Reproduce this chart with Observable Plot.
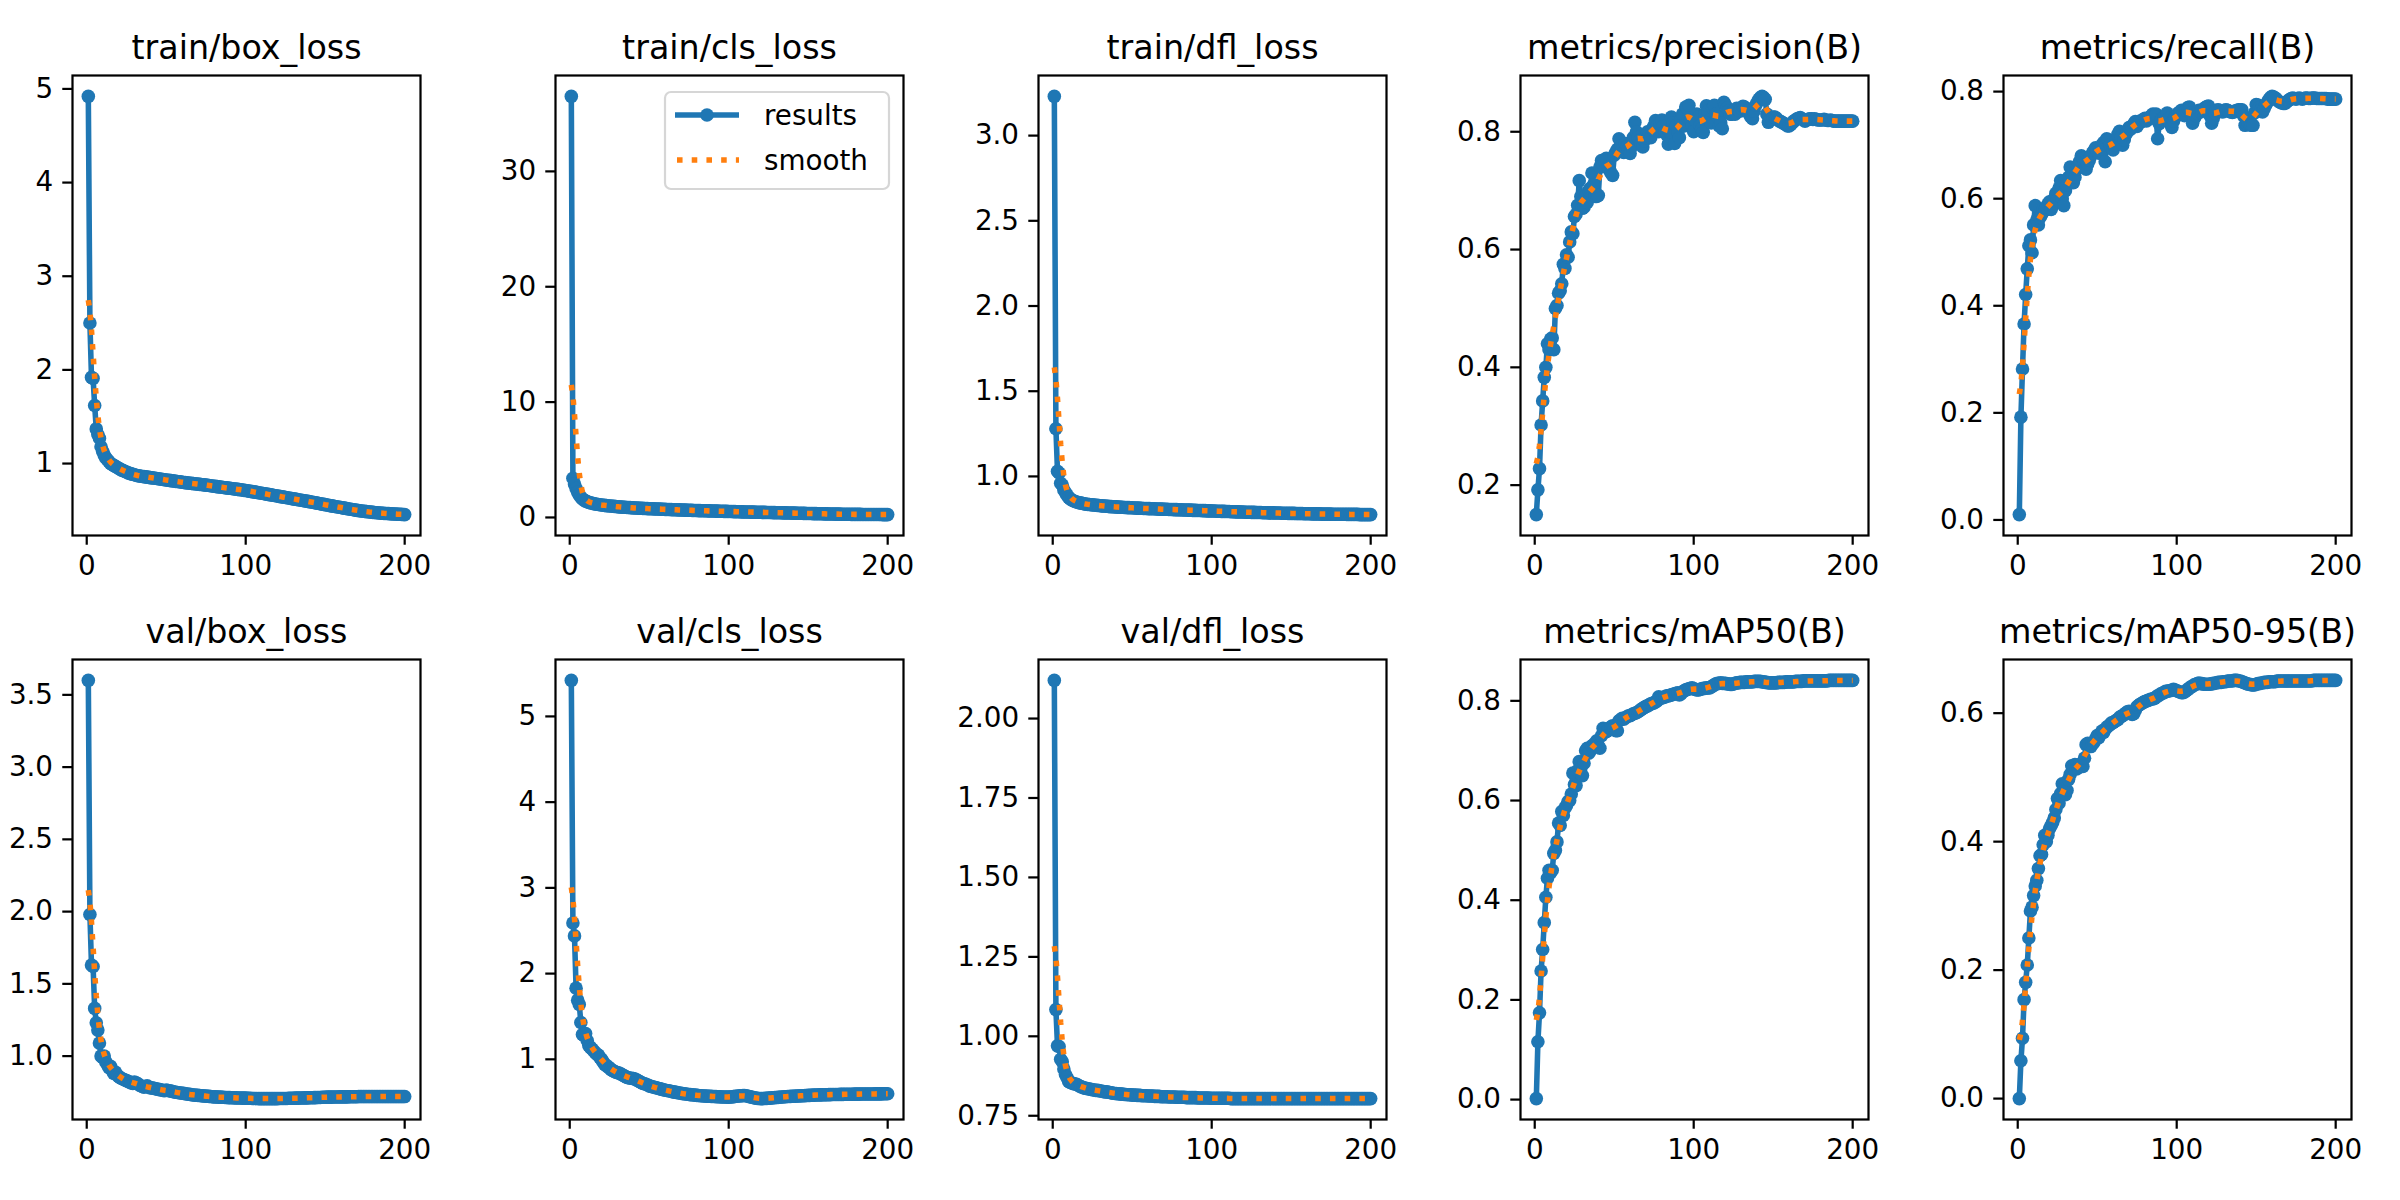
<!DOCTYPE html>
<html>
<head>
<meta charset="utf-8">
<script src="https://cdn.jsdelivr.net/npm/d3@7"></script>
<script src="https://cdn.jsdelivr.net/npm/@observablehq/plot@0.6"></script>
<style>
  body { margin: 0; background: #fff; }
  #chart { position: relative; width: 2400px; height: 1200px; background: #fff; font-family: "DejaVu Sans", sans-serif; }
  #chart svg { position: absolute; overflow: visible; }
</style>
</head>
<body>
<div id="chart"></div>
<script>
// Training run, 200 epochs: one value per epoch for each logged column.
const epochs = d3.range(1, 201);

const trainBoxLoss = [
  4.92, 2.50, 1.92, 1.91, 1.62, 1.37, 1.31, 1.27, 1.18, 1.13,
  1.09, 1.06, 1.04, 1.02, 1.00, 0.99, 0.98, 0.97, 0.96, 0.95,
  0.94, 0.93, 0.925, 0.915, 0.91, 0.90, 0.895, 0.89, 0.885, 0.88,
  0.875, 0.87, 0.868, 0.865, 0.862, 0.86, 0.858, 0.855, 0.852, 0.85,
  0.847, 0.845, 0.843, 0.84, 0.837, 0.835, 0.832, 0.83, 0.827, 0.825,
  0.822, 0.82, 0.818, 0.815, 0.813, 0.81, 0.808, 0.806, 0.804, 0.80,
  0.798, 0.796, 0.794, 0.792, 0.79, 0.788, 0.786, 0.784, 0.782, 0.78,
  0.778, 0.776, 0.774, 0.772, 0.77, 0.768, 0.765, 0.763, 0.76, 0.758,
  0.756, 0.754, 0.751, 0.749, 0.747, 0.745, 0.742, 0.74, 0.738, 0.736,
  0.733, 0.731, 0.729, 0.727, 0.724, 0.722, 0.72, 0.717, 0.714, 0.712,
  0.709, 0.706, 0.703, 0.70, 0.698, 0.695, 0.692, 0.689, 0.686, 0.683,
  0.68, 0.677, 0.674, 0.671, 0.668, 0.665, 0.662, 0.659, 0.656, 0.653,
  0.65, 0.647, 0.644, 0.641, 0.638, 0.635, 0.632, 0.629, 0.626, 0.623,
  0.62, 0.617, 0.614, 0.611, 0.608, 0.605, 0.602, 0.599, 0.596, 0.593,
  0.59, 0.587, 0.584, 0.58, 0.577, 0.574, 0.571, 0.567, 0.564, 0.561,
  0.558, 0.555, 0.551, 0.548, 0.545, 0.542, 0.539, 0.536, 0.533, 0.53,
  0.527, 0.524, 0.521, 0.518, 0.515, 0.512, 0.509, 0.506, 0.503, 0.50,
  0.498, 0.495, 0.493, 0.491, 0.489, 0.487, 0.485, 0.483, 0.481, 0.479,
  0.477, 0.475, 0.474, 0.472, 0.471, 0.469, 0.468, 0.467, 0.466, 0.465,
  0.464, 0.463, 0.462, 0.461, 0.46, 0.459, 0.458, 0.457, 0.456, 0.455
];

const trainClsLoss = [
  36.5, 3.4, 2.9, 2.5, 2.2, 1.95, 1.75, 1.6, 1.5, 1.42,
  1.36, 1.31, 1.27, 1.23, 1.2, 1.17, 1.15, 1.12, 1.1, 1.08,
  1.06, 1.05, 1.03, 1.02, 1.0, 0.99, 0.97, 0.96, 0.95, 0.93,
  0.92, 0.91, 0.9, 0.89, 0.88, 0.87, 0.86, 0.85, 0.84, 0.83,
  0.82, 0.815, 0.81, 0.8, 0.795, 0.79, 0.78, 0.775, 0.77, 0.76,
  0.755, 0.75, 0.745, 0.74, 0.735, 0.73, 0.72, 0.715, 0.71, 0.7,
  0.695, 0.69, 0.685, 0.68, 0.675, 0.67, 0.665, 0.66, 0.655, 0.65,
  0.645, 0.64, 0.635, 0.63, 0.625, 0.62, 0.615, 0.61, 0.605, 0.6,
  0.596, 0.592, 0.588, 0.584, 0.58, 0.576, 0.572, 0.568, 0.564, 0.56,
  0.556, 0.552, 0.548, 0.544, 0.54, 0.536, 0.532, 0.528, 0.524, 0.52,
  0.516, 0.512, 0.508, 0.504, 0.5, 0.496, 0.492, 0.488, 0.484, 0.48,
  0.477, 0.474, 0.47, 0.467, 0.464, 0.46, 0.457, 0.454, 0.45, 0.447,
  0.444, 0.44, 0.437, 0.434, 0.43, 0.427, 0.424, 0.42, 0.417, 0.414,
  0.41, 0.407, 0.404, 0.4, 0.397, 0.394, 0.39, 0.387, 0.384, 0.38,
  0.377, 0.374, 0.37, 0.367, 0.364, 0.36, 0.357, 0.354, 0.35, 0.347,
  0.344, 0.34, 0.337, 0.334, 0.33, 0.327, 0.324, 0.32, 0.317, 0.314,
  0.311, 0.308, 0.305, 0.302, 0.299, 0.296, 0.293, 0.29, 0.288, 0.286,
  0.284, 0.282, 0.28, 0.278, 0.276, 0.274, 0.272, 0.27, 0.268, 0.267,
  0.266, 0.265, 0.264, 0.263, 0.262, 0.261, 0.26, 0.259, 0.258, 0.257,
  0.256, 0.255, 0.254, 0.253, 0.252, 0.251, 0.25, 0.25, 0.249, 0.249
];

const trainDflLoss = [
  3.23, 1.28, 1.03, 1.02, 0.96, 0.95, 0.92, 0.905, 0.89, 0.877,
  0.868, 0.862, 0.857, 0.853, 0.85, 0.847, 0.845, 0.843, 0.841, 0.839,
  0.837, 0.836, 0.835, 0.834, 0.833, 0.832, 0.831, 0.83, 0.829, 0.828,
  0.827, 0.826, 0.826, 0.825, 0.824, 0.823, 0.823, 0.822, 0.821, 0.821,
  0.82, 0.82, 0.819, 0.819, 0.818, 0.818, 0.817, 0.817, 0.816, 0.816,
  0.815, 0.815, 0.814, 0.814, 0.813, 0.813, 0.812, 0.812, 0.812, 0.811,
  0.811, 0.81, 0.81, 0.81, 0.809, 0.809, 0.808, 0.808, 0.808, 0.807,
  0.807, 0.807, 0.806, 0.806, 0.806, 0.805, 0.805, 0.805, 0.804, 0.804,
  0.804, 0.803, 0.803, 0.803, 0.802, 0.802, 0.802, 0.801, 0.801, 0.801,
  0.8, 0.8, 0.8, 0.799, 0.799, 0.799, 0.798, 0.798, 0.798, 0.797,
  0.797, 0.797, 0.796, 0.796, 0.796, 0.795, 0.795, 0.795, 0.794, 0.794,
  0.794, 0.793, 0.793, 0.793, 0.792, 0.792, 0.792, 0.791, 0.791, 0.791,
  0.79, 0.79, 0.79, 0.79, 0.789, 0.789, 0.789, 0.788, 0.788, 0.788,
  0.788, 0.787, 0.787, 0.787, 0.787, 0.786, 0.786, 0.786, 0.786, 0.785,
  0.785, 0.785, 0.785, 0.784, 0.784, 0.784, 0.784, 0.783, 0.783, 0.783,
  0.783, 0.783, 0.782, 0.782, 0.782, 0.782, 0.782, 0.781, 0.781, 0.781,
  0.781, 0.781, 0.78, 0.78, 0.78, 0.78, 0.78, 0.78, 0.779, 0.779,
  0.779, 0.779, 0.779, 0.779, 0.779, 0.778, 0.778, 0.778, 0.778, 0.778,
  0.778, 0.778, 0.778, 0.778, 0.777, 0.777, 0.777, 0.777, 0.777, 0.777,
  0.777, 0.777, 0.776, 0.776, 0.776, 0.776, 0.776, 0.776, 0.776, 0.776
];

const precisionB = [
  0.150, 0.192, 0.228, 0.302, 0.343, 0.383, 0.400, 0.440, 0.430, 0.448,
  0.450, 0.430, 0.500, 0.505, 0.526, 0.530, 0.542, 0.575, 0.568, 0.591,
  0.587, 0.613, 0.630, 0.627, 0.656, 0.660, 0.675, 0.717, 0.690, 0.670,
  0.672, 0.690, 0.680, 0.700, 0.704, 0.730, 0.710, 0.690, 0.690, 0.692,
  0.740, 0.751, 0.745, 0.750, 0.755, 0.740, 0.735, 0.730, 0.726, 0.760,
  0.765, 0.770, 0.788, 0.775, 0.770, 0.765, 0.780, 0.775, 0.770, 0.763,
  0.775, 0.790, 0.816, 0.800, 0.790, 0.785, 0.780, 0.774, 0.785, 0.790,
  0.800, 0.795, 0.790, 0.805, 0.810, 0.819, 0.810, 0.800, 0.815, 0.820,
  0.810, 0.800, 0.795, 0.779, 0.800, 0.825, 0.815, 0.780, 0.810, 0.800,
  0.790, 0.820, 0.830, 0.810, 0.842, 0.840, 0.845, 0.820, 0.810, 0.800,
  0.820, 0.830, 0.825, 0.810, 0.805, 0.799, 0.830, 0.844, 0.835, 0.820,
  0.815, 0.840, 0.845, 0.830, 0.825, 0.810, 0.815, 0.805, 0.850, 0.845,
  0.840, 0.835, 0.830, 0.830, 0.835, 0.830, 0.840, 0.838, 0.835, 0.840,
  0.843, 0.842, 0.838, 0.835, 0.830, 0.825, 0.822, 0.835, 0.845, 0.850,
  0.855, 0.858, 0.860, 0.858, 0.855, 0.830, 0.816, 0.820, 0.822, 0.825,
  0.825, 0.823, 0.820, 0.818, 0.817, 0.815, 0.814, 0.812, 0.810, 0.810,
  0.812, 0.815, 0.818, 0.820, 0.822, 0.823, 0.824, 0.822, 0.820, 0.818,
  0.820, 0.821, 0.822, 0.822, 0.821, 0.822, 0.821, 0.820, 0.820, 0.820,
  0.820, 0.821, 0.820, 0.819, 0.819, 0.820, 0.819, 0.818, 0.818, 0.818,
  0.818, 0.818, 0.818, 0.818, 0.818, 0.818, 0.818, 0.818, 0.818, 0.818
];

const recallB = [
  0.010, 0.192, 0.282, 0.366, 0.421, 0.469, 0.512, 0.523, 0.499, 0.551,
  0.587, 0.560, 0.551, 0.565, 0.570, 0.580, 0.578, 0.585, 0.590, 0.594,
  0.580, 0.587, 0.600, 0.610, 0.598, 0.620, 0.634, 0.600, 0.587, 0.615,
  0.625, 0.640, 0.659, 0.645, 0.630, 0.640, 0.655, 0.660, 0.670, 0.680,
  0.675, 0.668, 0.655, 0.665, 0.672, 0.680, 0.685, 0.690, 0.695, 0.690,
  0.685, 0.690, 0.700, 0.705, 0.669, 0.712, 0.710, 0.700, 0.695, 0.691,
  0.700, 0.710, 0.720, 0.726, 0.715, 0.700, 0.710, 0.720, 0.725, 0.733,
  0.730, 0.735, 0.740, 0.744, 0.735, 0.740, 0.745, 0.744, 0.748, 0.750,
  0.745, 0.750, 0.752, 0.755, 0.758, 0.750, 0.758, 0.712, 0.740, 0.745,
  0.750, 0.751, 0.755, 0.760, 0.750, 0.740, 0.733, 0.745, 0.752, 0.755,
  0.760, 0.762, 0.765, 0.760, 0.755, 0.765, 0.770, 0.771, 0.760, 0.741,
  0.750, 0.755, 0.760, 0.765, 0.762, 0.765, 0.768, 0.770, 0.772, 0.773,
  0.755, 0.741, 0.750, 0.760, 0.765, 0.766, 0.765, 0.763, 0.762, 0.765,
  0.766, 0.765, 0.763, 0.762, 0.761, 0.762, 0.764, 0.765, 0.766, 0.766,
  0.766, 0.755, 0.737, 0.740, 0.742, 0.738, 0.737, 0.737, 0.760, 0.776,
  0.775, 0.770, 0.765, 0.762, 0.768, 0.775, 0.780, 0.785, 0.789, 0.791,
  0.790, 0.788, 0.785, 0.782, 0.780, 0.779, 0.778, 0.778, 0.780, 0.783,
  0.785, 0.787, 0.788, 0.787, 0.786, 0.787, 0.788, 0.787, 0.786, 0.787,
  0.788, 0.788, 0.787, 0.787, 0.788, 0.788, 0.788, 0.787, 0.787, 0.787,
  0.787, 0.787, 0.787, 0.787, 0.786, 0.786, 0.786, 0.786, 0.786, 0.786
];

const valBoxLoss = [
  3.60, 1.98, 1.63, 1.62, 1.33, 1.23, 1.18, 1.09, 1.00, 0.99,
  1.00, 0.96, 0.94, 0.92, 0.93, 0.90, 0.88, 0.89, 0.87, 0.86,
  0.85, 0.845, 0.84, 0.835, 0.83, 0.825, 0.82, 0.815, 0.81, 0.82,
  0.815, 0.81, 0.80, 0.795, 0.79, 0.785, 0.79, 0.795, 0.785, 0.78,
  0.78, 0.778, 0.775, 0.772, 0.77, 0.768, 0.765, 0.762, 0.76, 0.765,
  0.762, 0.76, 0.758, 0.755, 0.752, 0.75, 0.748, 0.746, 0.745, 0.743,
  0.742, 0.74, 0.738, 0.736, 0.735, 0.733, 0.731, 0.73, 0.729, 0.728,
  0.727, 0.726, 0.725, 0.724, 0.723, 0.722, 0.721, 0.72, 0.719, 0.718,
  0.718, 0.717, 0.716, 0.716, 0.715, 0.715, 0.714, 0.714, 0.713, 0.713,
  0.712, 0.712, 0.711, 0.711, 0.71, 0.71, 0.71, 0.709, 0.709, 0.709,
  0.708, 0.708, 0.708, 0.707, 0.707, 0.707, 0.707, 0.706, 0.706, 0.706,
  0.706, 0.706, 0.706, 0.706, 0.706, 0.706, 0.706, 0.706, 0.706, 0.706,
  0.707, 0.707, 0.707, 0.707, 0.707, 0.707, 0.708, 0.708, 0.708, 0.708,
  0.709, 0.709, 0.709, 0.71, 0.71, 0.71, 0.711, 0.711, 0.711, 0.712,
  0.712, 0.712, 0.713, 0.713, 0.714, 0.714, 0.714, 0.715, 0.715, 0.715,
  0.716, 0.716, 0.716, 0.716, 0.717, 0.717, 0.717, 0.717, 0.718, 0.718,
  0.718, 0.718, 0.718, 0.718, 0.719, 0.719, 0.719, 0.719, 0.719, 0.719,
  0.72, 0.72, 0.72, 0.72, 0.72, 0.72, 0.72, 0.72, 0.72, 0.72,
  0.72, 0.72, 0.72, 0.72, 0.72, 0.72, 0.72, 0.72, 0.72, 0.72,
  0.72, 0.72, 0.72, 0.72, 0.72, 0.72, 0.72, 0.72, 0.72, 0.72
];

const valClsLoss = [
  5.42, 2.59, 2.44, 1.83, 1.69, 1.64, 1.43, 1.29, 1.28, 1.30,
  1.22, 1.16, 1.14, 1.12, 1.10, 1.08, 1.06, 1.05, 1.02, 1.00,
  0.97, 0.94, 0.93, 0.91, 0.90, 0.88, 0.87, 0.86, 0.85, 0.845,
  0.84, 0.83, 0.82, 0.81, 0.80, 0.79, 0.785, 0.78, 0.78, 0.775,
  0.77, 0.76, 0.75, 0.74, 0.73, 0.72, 0.715, 0.71, 0.70, 0.69,
  0.685, 0.68, 0.675, 0.67, 0.665, 0.66, 0.655, 0.65, 0.645, 0.64,
  0.637, 0.634, 0.63, 0.625, 0.62, 0.617, 0.614, 0.61, 0.607, 0.604,
  0.60, 0.598, 0.595, 0.592, 0.59, 0.588, 0.586, 0.584, 0.582, 0.58,
  0.578, 0.576, 0.575, 0.573, 0.572, 0.571, 0.57, 0.569, 0.568, 0.567,
  0.566, 0.565, 0.564, 0.563, 0.562, 0.561, 0.56, 0.56, 0.559, 0.559,
  0.56, 0.562, 0.565, 0.568, 0.57, 0.572, 0.574, 0.575, 0.577, 0.578,
  0.575, 0.57, 0.565, 0.56, 0.556, 0.552, 0.548, 0.545, 0.543, 0.542,
  0.542, 0.543, 0.544, 0.545, 0.547, 0.548, 0.55, 0.552, 0.553, 0.555,
  0.556, 0.558, 0.56, 0.561, 0.563, 0.564, 0.566, 0.567, 0.568, 0.569,
  0.57, 0.571, 0.572, 0.573, 0.574, 0.575, 0.576, 0.577, 0.578, 0.579,
  0.58, 0.581, 0.582, 0.583, 0.584, 0.584, 0.585, 0.585, 0.586, 0.586,
  0.587, 0.587, 0.588, 0.588, 0.589, 0.589, 0.59, 0.59, 0.59, 0.591,
  0.591, 0.591, 0.592, 0.592, 0.592, 0.593, 0.593, 0.593, 0.594, 0.594,
  0.594, 0.594, 0.595, 0.595, 0.595, 0.595, 0.596, 0.596, 0.596, 0.596,
  0.596, 0.597, 0.597, 0.597, 0.597, 0.597, 0.598, 0.598, 0.598, 0.598
];

const valDflLoss = [
  2.12, 1.084, 0.97, 0.968, 0.928, 0.92, 0.897, 0.88, 0.87, 0.858,
  0.855, 0.853, 0.851, 0.85, 0.849, 0.846, 0.843, 0.841, 0.839, 0.837,
  0.836, 0.835, 0.834, 0.833, 0.832, 0.831, 0.83, 0.83, 0.829, 0.828,
  0.827, 0.826, 0.825, 0.825, 0.824, 0.823, 0.822, 0.821, 0.82, 0.82,
  0.819, 0.819, 0.818, 0.818, 0.817, 0.817, 0.816, 0.816, 0.816, 0.815,
  0.815, 0.815, 0.814, 0.814, 0.814, 0.813, 0.813, 0.813, 0.813, 0.812,
  0.812, 0.812, 0.812, 0.811, 0.811, 0.811, 0.811, 0.81, 0.81, 0.81,
  0.81, 0.81, 0.809, 0.809, 0.809, 0.809, 0.809, 0.808, 0.808, 0.808,
  0.808, 0.808, 0.808, 0.807, 0.807, 0.807, 0.807, 0.807, 0.807, 0.807,
  0.806, 0.806, 0.806, 0.806, 0.806, 0.806, 0.806, 0.806, 0.805, 0.805,
  0.805, 0.805, 0.805, 0.805, 0.805, 0.805, 0.805, 0.805, 0.805, 0.805,
  0.805, 0.804, 0.804, 0.804, 0.804, 0.804, 0.804, 0.804, 0.804, 0.804,
  0.804, 0.804, 0.804, 0.804, 0.804, 0.804, 0.804, 0.804, 0.804, 0.804,
  0.804, 0.804, 0.804, 0.804, 0.804, 0.804, 0.804, 0.804, 0.804, 0.804,
  0.804, 0.804, 0.804, 0.804, 0.804, 0.804, 0.804, 0.804, 0.804, 0.804,
  0.804, 0.804, 0.804, 0.804, 0.804, 0.804, 0.804, 0.804, 0.804, 0.804,
  0.804, 0.804, 0.804, 0.804, 0.804, 0.804, 0.804, 0.804, 0.804, 0.804,
  0.804, 0.804, 0.804, 0.804, 0.804, 0.804, 0.804, 0.804, 0.804, 0.804,
  0.804, 0.804, 0.804, 0.804, 0.804, 0.804, 0.804, 0.804, 0.804, 0.804,
  0.804, 0.804, 0.804, 0.804, 0.804, 0.804, 0.804, 0.804, 0.804, 0.804
];

const mAP50B = [
  0.002, 0.116, 0.174, 0.258, 0.301, 0.355, 0.406, 0.444, 0.46, 0.455,
  0.46, 0.494, 0.50, 0.517, 0.555, 0.55, 0.578, 0.57, 0.585, 0.59,
  0.598, 0.60, 0.613, 0.655, 0.632, 0.63, 0.66, 0.678, 0.665, 0.65,
  0.675, 0.70, 0.705, 0.695, 0.70, 0.71, 0.712, 0.715, 0.72, 0.71,
  0.705, 0.73, 0.745, 0.742, 0.738, 0.74, 0.745, 0.748, 0.75, 0.745,
  0.74, 0.74, 0.76, 0.762, 0.765, 0.763, 0.766, 0.768, 0.77, 0.77,
  0.772, 0.774, 0.775, 0.776, 0.778, 0.78, 0.783, 0.785, 0.787, 0.789,
  0.79, 0.792, 0.794, 0.795, 0.796, 0.798, 0.80, 0.808, 0.805, 0.806,
  0.807, 0.808, 0.81, 0.81, 0.811, 0.812, 0.813, 0.814, 0.815, 0.816,
  0.812, 0.814, 0.818, 0.82, 0.822, 0.823, 0.824, 0.825, 0.826, 0.824,
  0.823, 0.822, 0.822, 0.823, 0.824, 0.825, 0.825, 0.826, 0.826, 0.826,
  0.828, 0.83, 0.832, 0.834, 0.835, 0.835, 0.836, 0.835, 0.835, 0.835,
  0.834, 0.834, 0.833, 0.833, 0.834, 0.835, 0.836, 0.836, 0.837, 0.837,
  0.837, 0.837, 0.838, 0.838, 0.838, 0.838, 0.838, 0.839, 0.839, 0.839,
  0.839, 0.839, 0.838, 0.838, 0.837, 0.837, 0.836, 0.836, 0.836, 0.836,
  0.836, 0.836, 0.837, 0.837, 0.837, 0.837, 0.837, 0.838, 0.838, 0.838,
  0.838, 0.838, 0.838, 0.839, 0.839, 0.839, 0.839, 0.839, 0.84, 0.84,
  0.84, 0.84, 0.84, 0.84, 0.84, 0.84, 0.84, 0.84, 0.84, 0.84,
  0.84, 0.84, 0.84, 0.84, 0.841, 0.841, 0.841, 0.841, 0.841, 0.841,
  0.841, 0.841, 0.841, 0.841, 0.841, 0.841, 0.841, 0.841, 0.841, 0.841
];

const mAP5095B = [
  0.0, 0.059, 0.094, 0.154, 0.181, 0.208, 0.25, 0.292, 0.298, 0.316,
  0.331, 0.34, 0.358, 0.378, 0.38, 0.395, 0.41, 0.40, 0.41, 0.42,
  0.425, 0.43, 0.437, 0.45, 0.467, 0.46, 0.475, 0.49, 0.485, 0.473,
  0.48, 0.497, 0.505, 0.518, 0.515, 0.52, 0.513, 0.515, 0.52, 0.517,
  0.517, 0.53, 0.551, 0.553, 0.55, 0.548, 0.552, 0.555, 0.56, 0.565,
  0.562, 0.568, 0.572, 0.57, 0.575, 0.578, 0.58, 0.582, 0.585, 0.585,
  0.587, 0.589, 0.59, 0.593, 0.595, 0.596, 0.598, 0.60, 0.602, 0.603,
  0.60, 0.598, 0.599, 0.605, 0.61, 0.612, 0.614, 0.615, 0.617, 0.618,
  0.619, 0.62, 0.621, 0.622, 0.622, 0.623, 0.625, 0.627, 0.628, 0.63,
  0.631, 0.632, 0.634, 0.634, 0.635, 0.635, 0.636, 0.637, 0.636, 0.635,
  0.634, 0.633, 0.632, 0.632, 0.633, 0.635, 0.637, 0.639, 0.641, 0.642,
  0.644, 0.645, 0.646, 0.647, 0.646, 0.646, 0.645, 0.645, 0.645, 0.645,
  0.645, 0.646, 0.646, 0.647, 0.647, 0.648, 0.648, 0.648, 0.649, 0.649,
  0.649, 0.65, 0.65, 0.65, 0.65, 0.651, 0.651, 0.651, 0.65, 0.65,
  0.649, 0.648, 0.647, 0.646, 0.645, 0.645, 0.644, 0.644, 0.644, 0.645,
  0.646, 0.646, 0.647, 0.647, 0.648, 0.648, 0.648, 0.649, 0.649, 0.649,
  0.649, 0.649, 0.65, 0.65, 0.65, 0.65, 0.65, 0.65, 0.65, 0.65,
  0.65, 0.65, 0.65, 0.65, 0.65, 0.65, 0.65, 0.65, 0.65, 0.65,
  0.65, 0.65, 0.65, 0.65, 0.65, 0.651, 0.651, 0.651, 0.651, 0.651,
  0.651, 0.651, 0.651, 0.651, 0.651, 0.651, 0.651, 0.651, 0.651, 0.651
];

// Panel titles, in reading order (two rows of five).
const panelTitles = [
  "train/box_loss", "train/cls_loss", "train/dfl_loss", "metrics/precision(B)", "metrics/recall(B)",
  "val/box_loss", "val/cls_loss", "val/dfl_loss", "metrics/mAP50(B)", "metrics/mAP50-95(B)"
];

// Tick labels.
const xTickLabels = ["0", "100", "200"];
const yTickLabels = [
  ["1", "2", "3", "4", "5"],
  ["0", "10", "20", "30"],
  ["1.0", "1.5", "2.0", "2.5", "3.0"],
  ["0.2", "0.4", "0.6", "0.8"],
  ["0.0", "0.2", "0.4", "0.6", "0.8"],
  ["1.0", "1.5", "2.0", "2.5", "3.0", "3.5"],
  ["1", "2", "3", "4", "5"],
  ["0.75", "1.00", "1.25", "1.50", "1.75", "2.00"],
  ["0.0", "0.2", "0.4", "0.6", "0.8"],
  ["0.0", "0.2", "0.4", "0.6"]
];

const legendLabels = ["results", "smooth"];

const series = [
  trainBoxLoss, trainClsLoss, trainDflLoss, precisionB, recallB,
  valBoxLoss, valClsLoss, valDflLoss, mAP50B, mAP5095B
];

// ---- styling / layout ----
const BLUE = "#1f77b4";
const ORANGE = "#ff7f0e";
const PT = 200 / 72;              // one point in pixels at 200 dpi
const LINE_W = 2 * PT;
const DOTTED = `${1 * LINE_W},${1.65 * LINE_W}`;
const TICK = 3.5 * PT;
const SPINE = 0.8 * PT;
const FONT = 10 * PT;
const TITLE_FONT = 12 * PT;
const DOT_R = 6.8;

const FRAME_W = 348, FRAME_H = 460;
const colLeft = [71.7, 554.6, 1037.5, 1520.4, 2003.3];
const rowTop = [75, 659];
const M = {left: 110, right: 30, top: 80, bottom: 70};

// Gaussian smoothing (sigma 3, truncated at 4 sigma, reflected edges).
function gaussianSmooth(y, sigma) {
  const radius = Math.floor(4 * sigma + 0.5);
  const w = [];
  for (let k = -radius; k <= radius; k++) w.push(Math.exp(-0.5 * k * k / (sigma * sigma)));
  const total = d3.sum(w);
  const n = y.length;
  const at = (i) => {
    while (i < 0 || i >= n) {
      if (i < 0) i = -i - 1;
      if (i >= n) i = 2 * n - i - 1;
    }
    return y[i];
  };
  return y.map((_, i) => {
    let s = 0;
    for (let k = -radius; k <= radius; k++) s += w[k + radius] * at(i + k);
    return s / total;
  });
}

// Autoscale: data extent padded by 5% on each side.
function padded([lo, hi]) {
  const m = 0.05 * (hi - lo);
  return [lo - m, hi + m];
}

const chart = document.getElementById("chart");
const xTicks = xTickLabels.map(Number);

series.forEach((values, i) => {
  const r = Math.floor(i / 5), c = i % 5;
  const smooth = gaussianSmooth(values, 3);
  const rows = epochs.map((e, k) => ({epoch: e, value: values[k], smooth: smooth[k]}));
  const labels = yTickLabels[i];
  const yTicks = labels.map(Number);
  const yLabel = new Map(yTicks.map((v, k) => [v, labels[k]]));

  const svg = Plot.plot({
    width: FRAME_W + M.left + M.right,
    height: FRAME_H + M.top + M.bottom,
    marginLeft: M.left, marginRight: M.right, marginTop: M.top, marginBottom: M.bottom,
    x: {domain: padded(d3.extent(epochs))},
    y: {domain: padded(d3.extent([...values, ...smooth]))},
    style: {fontFamily: "DejaVu Sans, sans-serif", fontSize: `${FONT}px`, color: "black", background: "transparent", overflow: "visible"},
    marks: [
      Plot.axisX({ticks: xTicks, tickFormat: (d) => xTickLabels[xTicks.indexOf(d)], tickSize: TICK, tickPadding: TICK, strokeWidth: SPINE, fontSize: FONT, label: null, stroke: "black", fill: "black"}),
      Plot.axisY({ticks: yTicks, tickFormat: (d) => yLabel.get(d), tickSize: TICK, tickPadding: TICK, strokeWidth: SPINE, fontSize: FONT, label: null, stroke: "black", fill: "black"}),
      Plot.line(rows, {x: "epoch", y: "value", stroke: BLUE, strokeWidth: LINE_W}),
      Plot.dot(rows, {x: "epoch", y: "value", fill: BLUE, r: DOT_R}),
      Plot.line(rows, {x: "epoch", y: "smooth", stroke: ORANGE, strokeWidth: LINE_W, strokeDasharray: DOTTED, strokeLinecap: "butt", strokeLinejoin: "miter"}),
      Plot.frame({stroke: "black", strokeWidth: SPINE}),
      Plot.text([panelTitles[i]], {text: (d) => d, frameAnchor: "top", lineAnchor: "bottom", dy: -16.5, fontSize: TITLE_FONT, fill: "black"})
    ]
  });
  svg.style.left = `${colLeft[c] - M.left}px`;
  svg.style.top = `${rowTop[r] - M.top}px`;
  chart.appendChild(svg);
});

// Legend box in the upper-right corner of the second panel.
{
  const pad = 5 * PT;
  const boxW = 224, boxH = 97;
  const right = colLeft[1] + FRAME_W - pad;
  const top = rowTop[0] + pad + 3;
  const left = right - boxW;
  const svg = d3.create("svg")
    .attr("width", boxW + 10).attr("height", boxH + 10)
    .style("left", `${left - 5}px`).style("top", `${top - 5}px`);
  const g = svg.append("g").attr("transform", "translate(5,5)");
  g.append("rect").attr("width", boxW).attr("height", boxH).attr("rx", 6)
    .attr("fill", "white").attr("fill-opacity", 0.8)
    .attr("stroke", "#d6d6d6").attr("stroke-width", SPINE);
  const rowsY = [23, 68];
  const hx0 = 10, hx1 = 74;
  // results: line with point marker
  g.append("line").attr("x1", hx0).attr("x2", hx1).attr("y1", rowsY[0]).attr("y2", rowsY[0])
    .attr("stroke", BLUE).attr("stroke-width", LINE_W);
  g.append("circle").attr("cx", (hx0 + hx1) / 2).attr("cy", rowsY[0]).attr("r", DOT_R).attr("fill", BLUE);
  // smooth: dotted line
  g.append("line").attr("x1", hx0 + 2).attr("x2", hx1).attr("y1", rowsY[1]).attr("y2", rowsY[1])
    .attr("stroke", ORANGE).attr("stroke-width", LINE_W).attr("stroke-dasharray", DOTTED);
  legendLabels.forEach((t, k) => {
    g.append("text").attr("x", 99).attr("y", rowsY[k]).attr("dy", "0.35em")
      .attr("font-family", "DejaVu Sans, sans-serif").attr("font-size", FONT).attr("fill", "black")
      .text(t);
  });
  chart.appendChild(svg.node());
}
</script>
</body>
</html>
